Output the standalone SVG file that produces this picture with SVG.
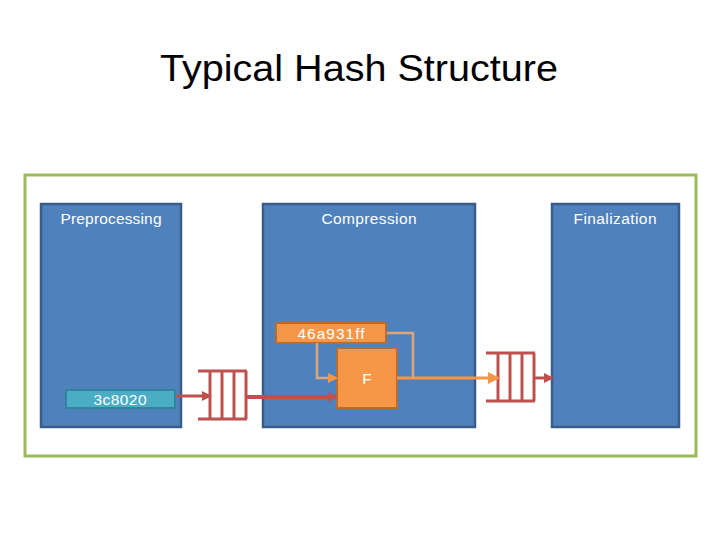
<svg xmlns="http://www.w3.org/2000/svg" width="720" height="540" viewBox="0 0 720 540">
<defs>
<style>
.stage{fill:#4F81BD;stroke:#385D8A;stroke-width:2.5}
.lbl{font-family:"Liberation Sans",Arial,sans-serif;font-size:15.5px;fill:#fff;text-anchor:middle}
.reg{stroke:#C0504D;stroke-width:3;fill:none}
.org{fill:#F79646;stroke:#B66D31;stroke-width:2}
</style>
<marker id="ar" markerWidth="10" markerHeight="10" refX="8" refY="5" orient="auto" markerUnits="userSpaceOnUse"><path d="M0,0 L10,5 L0,10 z" fill="#C0504D"/></marker>
<marker id="ao" markerWidth="12" markerHeight="12" refX="10" refY="6" orient="auto" markerUnits="userSpaceOnUse"><path d="M0,0 L12,6 L0,12 z" fill="#F79646"/></marker>
<marker id="at" markerWidth="10" markerHeight="10" refX="8" refY="5" orient="auto" markerUnits="userSpaceOnUse"><path d="M0,0 L10,5 L0,10 z" fill="#F79646"/></marker>
</defs>
<rect width="720" height="540" fill="#fff"/>
<text x="359" y="81" font-family="'Liberation Sans',Arial,sans-serif" font-size="37" fill="#000" text-anchor="middle" textLength="398" lengthAdjust="spacingAndGlyphs">Typical Hash Structure</text>
<rect x="25" y="175" width="671" height="281" fill="none" stroke="#9BBB59" stroke-width="3"/>
<g id="preprocessing"><rect class="stage" x="41" y="204" width="140" height="223"/><text class="lbl" x="111" y="224" textLength="101">Preprocessing</text></g>
<g id="compression"><rect class="stage" x="263" y="204" width="212" height="223"/><text class="lbl" x="369" y="224" textLength="95">Compression</text></g>
<g id="finalization"><rect class="stage" x="552" y="204" width="127" height="223"/><text class="lbl" x="615" y="224" textLength="83">Finalization</text></g>
<g id="iv"><rect x="66" y="390" width="109" height="18" fill="#4BACC6" stroke="#31849B" stroke-width="2"/><text class="lbl" x="120" y="405" textLength="53">3c8020</text></g>
<g id="state"><rect class="org" x="276" y="323" width="110" height="20"/><text class="lbl" x="331" y="339" font-size="16.5" textLength="67">46a931ff</text></g>
<g id="F"><rect class="org" x="337" y="348" width="60" height="60"/><text class="lbl" x="367" y="384">F</text></g>
<g id="reg1"><path class="reg" d="M198,371 H247 M198,419 H247 M210,371 V419 M222,371 V419 M234,371 V419 M246,371 V419"/></g>
<g id="reg2"><path class="reg" d="M486,353 H535 M486,401 H535 M498,353 V401 M510,353 V401 M522,353 V401 M534,353 V401"/></g>
<g id="connectors">
<line x1="176" y1="396" x2="210" y2="396" stroke="#C0504D" stroke-width="3" marker-end="url(#ar)"/>
<line x1="247" y1="397" x2="336" y2="397" stroke="#C0504D" stroke-width="4" marker-end="url(#ar)"/>
<line x1="397" y1="378" x2="498" y2="378" stroke="#F79646" stroke-width="3" marker-end="url(#ao)"/>
<polyline points="413,378 413,333 387,333" fill="none" stroke="#D9A77A" stroke-width="2.5"/>
<polyline points="317,343 317,378 336,378" fill="none" stroke="#D9A77A" stroke-width="2.5" marker-end="url(#at)"/>
<line x1="535" y1="378" x2="552" y2="378" stroke="#C0504D" stroke-width="3" marker-end="url(#ar)"/>
</g>
</svg>
